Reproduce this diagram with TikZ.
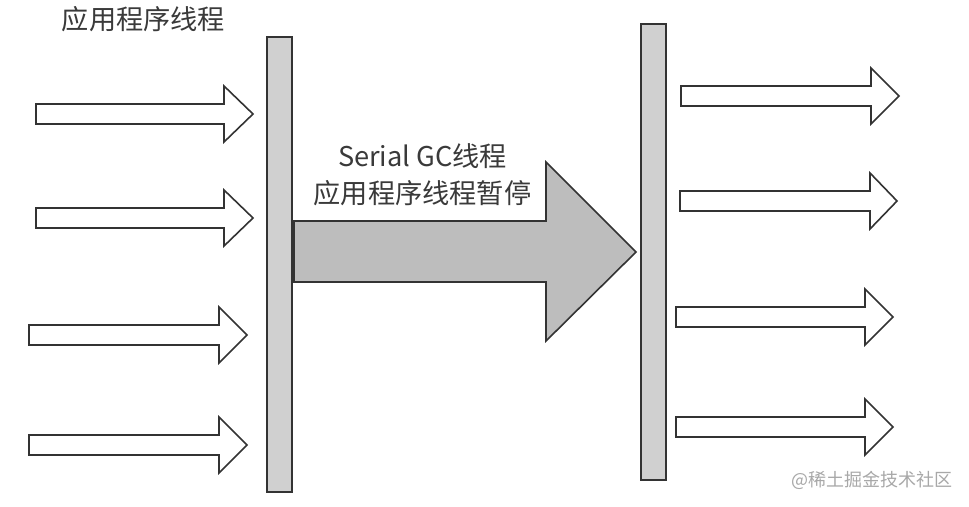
\documentclass[tikz,border=0pt]{standalone}
\usepackage{fontspec}
\setmainfont{Noto Sans CJK SC}
\definecolor{edge}{HTML}{333333}
\definecolor{barfill}{HTML}{D0D0D0}
\definecolor{bigfill}{HTML}{BDBDBD}
\definecolor{txt}{HTML}{3A3A3A}
\definecolor{wm}{HTML}{A8A8A8}
\tikzset{
  thinarrow/.style={draw=edge, fill=white, line width=1.6pt, line join=miter},
  bigarrow/.style={draw=edge, fill=bigfill, line width=1.6pt, line join=miter},
  barbox/.style={draw=edge, fill=barfill, line width=1.6pt},
  label/.style={text=txt, font=\fontsize{27.2}{32}\selectfont, inner sep=0pt, align=center},
  watermark/.style={text=wm, font=\fontsize{18}{20}\selectfont, inner sep=0pt}
}
\newcommand\hollowarrow[4]{% xs, xb, xt, yc
  \draw[thinarrow] (#1,#4-10) -- (#2,#4-10) -- (#2,#4-28) -- (#3,#4) -- (#2,#4+28) -- (#2,#4+10) -- (#1,#4+10) -- cycle;}
\begin{document}
\begin{tikzpicture}[x=1pt,y=-1pt]
\useasboundingbox (0,0) rectangle (969,506);
\fill[white] (0,0) rectangle (969,506);
% bars
\draw[barbox] (267,37) rectangle (292,492);
\draw[barbox] (641,24) rectangle (666,480);
% left arrows
\hollowarrow{36}{224}{253}{114}
\hollowarrow{36}{224}{253}{218}
\hollowarrow{29}{219}{247}{335}
\hollowarrow{29}{219}{247}{445}
% right arrows
\hollowarrow{681}{871}{899}{96}
\hollowarrow{680}{870}{897}{201}
\hollowarrow{676}{865}{893}{317}
\hollowarrow{676}{865}{893}{427}
% big arrow
\draw[bigarrow] (294,221) -- (546,221) -- (546,162) -- (636,252) -- (546,341) -- (546,282) -- (294,282) -- cycle;
% texts
\node[label] (apptitle) at (143.5,19) {应用程序线程};
\node[label] (gcline) at (422.5,156) {Serial GC线程};
\node[label] (pauseline) at (422.5,193) {应用程序线程暂停};
\node[watermark] (wmark) at (872,480) {@稀土掘金技术社区};
\end{tikzpicture}
\end{document}
